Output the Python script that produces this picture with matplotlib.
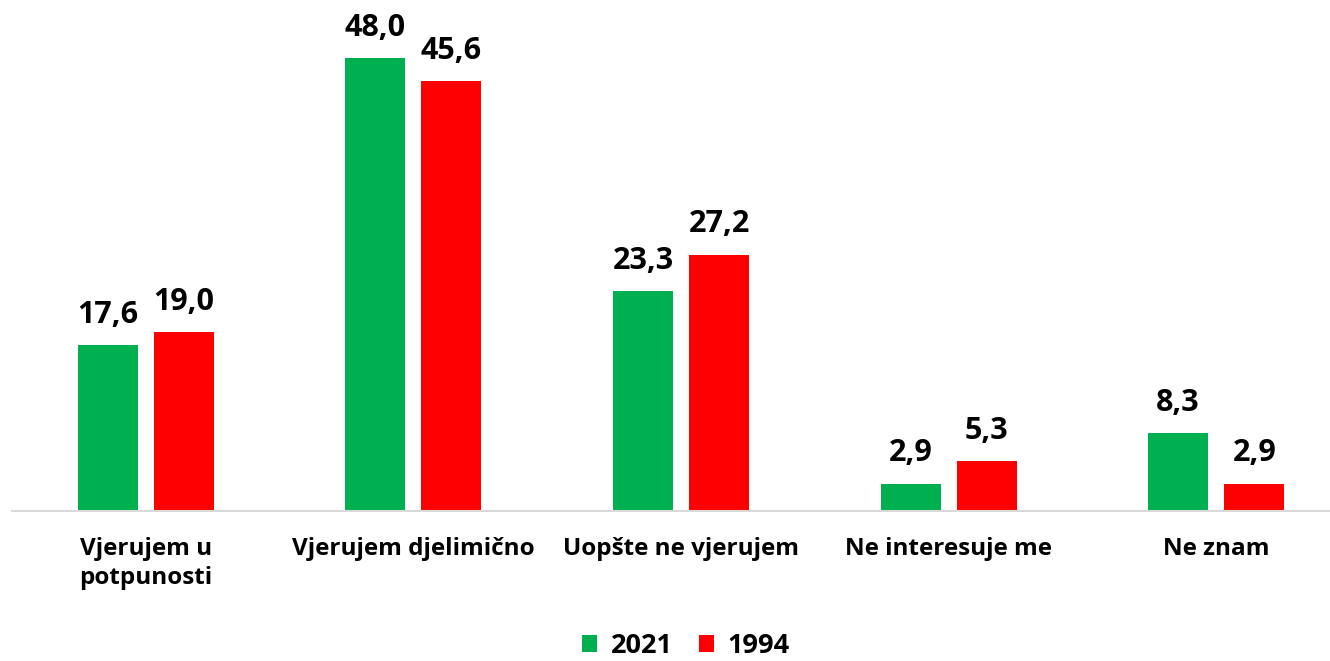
import matplotlib
matplotlib.use("Agg")
import matplotlib.pyplot as plt
import numpy as np

categories = ["Vjerujem u\npotpunosti", "Vjerujem djelimično", "Uopšte ne vjerujem",
              "Ne interesuje me", "Ne znam"]
series_names = ["2021", "1994"]
values_2021 = [17.6, 48.0, 23.3, 2.9, 8.3]
values_1994 = [19.0, 45.6, 27.2, 5.3, 2.9]
colors = ["#00B050", "#FF0000"]

plt.rcParams['font.family'] = ['Open Sans', 'DejaVu Sans']
plt.rcParams['font.weight'] = 'bold'

W, H = 1330, 661
fig = plt.figure(figsize=(W / 100, H / 100), dpi=100)
left = 12 / W
width = 1338 / W
bottom = (H - 511) / H
height = 471.5 / H
ax = fig.add_axes([left, bottom, width, height])

x = np.arange(len(categories))
bw = 60 / 267.5
gap = 16 / 267.5
off = (bw + gap) / 2

def fmt(v):
    return f"{v:.1f}".replace(".", ",")

bars = []
for i, (vals, name, col) in enumerate(zip([values_2021, values_1994], series_names, colors)):
    pos = x + (-off if i == 0 else off)
    b = ax.bar(pos, vals, width=bw, color=col, label=name, zorder=2)
    bars.append(b)
    for p, v in zip(pos, vals):
        ax.annotate(fmt(v), (p, v), xytext=(0, 16), textcoords="offset points",
                    ha="center", va="baseline", fontsize=22, fontweight="bold",
                    color="#000000")

ax.set_xlim(-0.5, len(categories) - 0.5)
ax.set_ylim(0, 50)
ax.set_xticks(x)
ax.set_xticklabels(categories, fontsize=17.5, fontweight="bold", color="#000000",
                   linespacing=1.32, va="top")
ax.tick_params(axis="x", length=0, pad=18.5)
ax.set_yticks([])
for s in ["top", "right", "left"]:
    ax.spines[s].set_visible(False)
ax.spines["bottom"].set_color("#D9D9D9")
ax.spines["bottom"].set_linewidth(1.5)

leg = fig.legend(handles=bars, labels=series_names, loc="center",
                 bbox_to_anchor=(686 / W, (H - 646) / H), ncol=2, frameon=False,
                 prop={"size": 19.5, "weight": "bold"}, handlelength=0.55,
                 handleheight=0.55, handletextpad=0.5, columnspacing=1.0)

fig.savefig("out.png", dpi=100)
